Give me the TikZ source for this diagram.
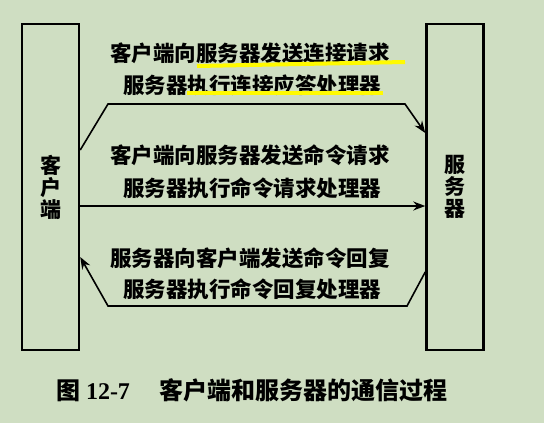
\documentclass[tikz,border=0pt]{standalone}
\usepackage{fontspec}
\setmainfont{Noto Sans CJK SC}
\newfontfamily\latinserif{Liberation Serif}
\usetikzlibrary{arrows.meta}
\definecolor{paper}{RGB}{207,222,194}
\definecolor{marker}{RGB}{255,250,0}
\begin{document}
\begin{tikzpicture}
		[x=1pt,y=-1pt,
		box/.style={draw,line width=2.5pt,inner sep=0pt,minimum width=57pt,
minimum height=326pt,align=center,font=\fontsize{21}{22}\selectfont\bfseries},
		msg/.style={inner sep=0pt,font=\fontsize{21.5}{21.5}\selectfont\bfseries},
		flow/.style={line width=1.6pt,-{Stealth[length=12pt,width=9pt]}},
		marked/.style={line width=4pt,marker}]
		\fill[paper] (0,0) rectangle (544,423);
		\node at (50.5, 187) (client) [box] {客\\户\\端};
		\node at (455, 187) (server) [box] {服\\务\\器};
		% levels of the connectors
		\coordinate (l1) at (0, 150);
		\coordinate (r1) at (0, 133);
		\coordinate (l2) at (0, 206);
		\coordinate (r3) at (0, 272);
		\coordinate (l3) at (0, 257);
		% connection
		\draw[flow] (client.east |- l1) -- (108, 104) -- (405, 104) -- (server.west |- r1);
		% command request
		\draw[flow] (client.east |- l2) -- (server.west |- l2);
		% command reply
		\draw[flow] (server.west |- r3) -- (407, 306) -- (108, 306) -- (client.east |- l3);
		\node at (250, 53) (t1) [msg] {客户端向服务器发送连接请求};
		\node at (252, 85) (t2) [msg] {服务器执行连接应答处理器};
		\node at (250, 155) (t3) [msg] {客户端向服务器发送命令请求};
		\node at (252, 188) (t4) [msg] {服务器执行命令请求处理器};
		\node at (250, 258) (t5) [msg] {服务器向客户端发送命令回复};
		\node at (252, 289) (t6) [msg] {服务器执行命令回复处理器};
		\draw[marked] (197, 66) -- (405, 62);
		\draw[marked] (187, 93) -- (383, 93);
		\node at (252, 390) (caption) [inner sep=0pt,font=\fontsize{24}{24}\selectfont\bfseries]
			{图 {\latinserif 12-7}\quad\ 客户端和服务器的通信过程};
	\end{tikzpicture}
\end{document}
